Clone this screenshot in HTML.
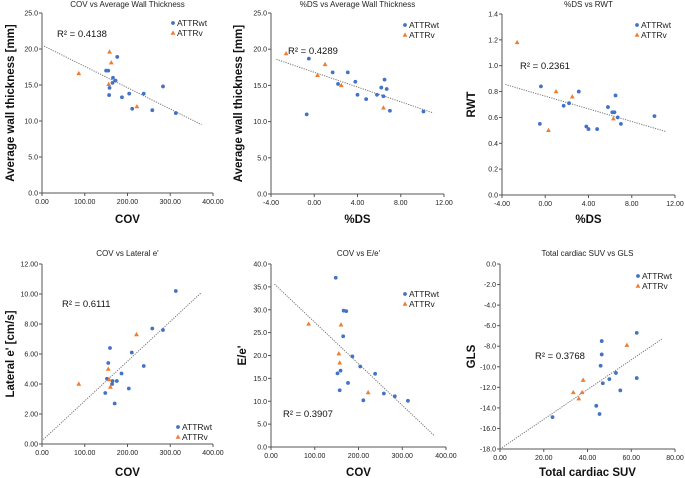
<!DOCTYPE html>
<html><head><meta charset="utf-8"><style>
html,body{margin:0;padding:0;background:#fff;}
svg{display:block;font-family:"Liberation Sans",Arial,sans-serif;}
</style></head><body>
<svg id="chart" width="685" height="478" viewBox="0 0 685 478"></svg>
<script>
// Panel 1: COV vs Average Wall Thickness
const p1WtX=[150,155,176,166,172,165,158,157,187,204,238,283,211,258,313];
const p1WtY=[17,17,18.9,16,15.6,15.3,14.6,13.6,13.3,13.8,13.8,14.8,11.7,11.5,11.1];
const p1VX=[158,162,86,156,222];
const p1VY=[19.6,18.1,16.6,15.1,12.0];
// Panel 2: %DS vs AWT
const p2WtX=[-0.5,-0.7,1.7,2.2,3.1,3.8,4.0,4.8,5.8,6.2,6.4,6.5,6.7,7.0,10.1];
const p2WtY=[18.7,11.0,16.8,15.2,16.8,15.5,13.7,13.1,13.7,14.7,13.5,15.8,14.5,11.5,11.4];
const p2VX=[-2.6,0.3,1.0,2.5,6.4];
const p2VY=[19.4,16.4,17.9,15.0,11.9];
// Panel 3: %DS vs RWT
const p3WtX=[-0.4,-0.5,1.7,2.2,3.1,3.8,4.0,4.8,5.8,6.2,6.4,6.5,6.7,7.0,10.1];
const p3WtY=[0.84,0.55,0.69,0.71,0.80,0.53,0.51,0.51,0.68,0.64,0.64,0.77,0.60,0.55,0.61];
const p3VX=[-2.6,0.3,1.0,2.5,6.3];
const p3VY=[1.18,0.50,0.80,0.76,0.59];
// Panel 4: COV vs Lateral e'
const p4WtX=[313,258,283,159,210,155,238,186,152,165,175,164,148,203,170];
const p4WtY=[10.2,7.7,7.6,6.4,6.1,5.4,5.2,4.7,4.35,4.2,4.2,4.0,3.4,3.7,2.7];
const p4VX=[86,155,157,160,221];
const p4VY=[4.0,5.0,4.3,3.8,7.3];
// Panel 5: COV vs E/e'
const p5WtX=[148,166,172,165,186,204,238,159,152,176,157,211,258,283,313];
const p5WtY=[37,29.8,29.7,24.2,19.8,17.6,16.0,16.7,16.1,14.0,12.4,10.2,11.7,11.1,10.1];
const p5VX=[86,160,155,157,222];
const p5VY=[26.9,26.7,20.4,18.4,11.9];
// Panel 6: Total cardiac SUV vs GLS
const p6WtX=[62.5,46.5,46.5,46,53,50,62.5,47,55,44,45.5,24];
const p6WtY=[-6.7,-7.5,-8.8,-9.9,-10.6,-11.2,-11.1,-11.6,-12.3,-13.8,-14.6,-14.9];
const p6VX=[58,38,33.5,37.5,36];
const p6VY=[-7.9,-11.3,-12.5,-12.5,-13.1];
// trend line endpoints [x0,y0,x1,y1]
const trend1=[5,20.4,373,9.5];
const trend2=[-3.5,18.6,11,11.2];
const trend3=[-3.7,0.855,11.2,0.49];
const trend4=[3,0.3,373,10.1];
const trend5=[8,35.6,373,2.5];
const trend6=[0,-18,74,-7.3];
const r2Labels=["R² = 0.4138","R² = 0.4289","R² = 0.2361","R² = 0.6111","R² = 0.3907","R² = 0.3768"];
const xTicks1=["0.00","100.00","200.00","300.00","400.00"];
const xTicksDS=["-4.00","0.00","4.00","8.00","12.00"];
const yTicksAWT=["0.0","5.0","10.0","15.0","20.0","25.0"];
const yTicksRWT=["0.0","0.2","0.4","0.6","0.8","1.0","1.2","1.4"];
const yTicksLat=["0.00","2.00","4.00","6.00","8.00","10.00","12.00"];
const yTicksEe=["0.0","5.0","10.0","15.0","20.0","25.0","30.0","35.0","40.0"];
const xTicksSUV=["0.00","20.00","40.00","60.00","80.00"];
const yTicksGLS=["-18.0","-16.0","-14.0","-12.0","-10.0","-8.0","-6.0","-4.0","-2.0","0.0"];

const NS="http://www.w3.org/2000/svg";
const svg=document.getElementById('chart');
function mk(tag,attrs,parent,txt){const e=document.createElementNS(NS,tag);for(const k in attrs)e.setAttribute(k,attrs[k]);if(txt!==undefined)e.textContent=txt;(parent||svg).appendChild(e);return e;}

const panels=[
 {id:'cov-awt',title:'COV vs Average Wall Thickness',xt:'COV',yt:'Average wall thickness [mm]',box:[42,213,13,193],xr:[0,400],yr:[0,25],xTicks:xTicks1,yTicks:yTicksAWT,wx:p1WtX,wy:p1WtY,vx:p1VX,vy:p1VY,tr:trend1,r2:r2Labels[0],r2p:[57,37],leg:[173,23],tY:7,xtY:227,ytX:10},
 {id:'ds-awt',title:'%DS vs Average Wall Thickness',xt:'%DS',yt:'Average wall thickness [mm]',box:[271,444,13,194],xr:[-4,12],yr:[0,25],xTicks:xTicksDS,yTicks:yTicksAWT,wx:p2WtX,wy:p2WtY,vx:p2VX,vy:p2VY,tr:trend2,r2:r2Labels[1],r2p:[288,54],leg:[405,25],tY:7,xtY:227,ytX:238},
 {id:'ds-rwt',title:'%DS vs RWT',xt:'%DS',yt:'RWT',box:[502,675,14,195],xr:[-4,12],yr:[0,1.4],xTicks:xTicksDS,yTicks:yTicksRWT,wx:p3WtX,wy:p3WtY,vx:p3VX,vy:p3VY,tr:trend3,r2:r2Labels[2],r2p:[520,69],leg:[637,25],tY:7,xtY:227,ytX:471},
 {id:'cov-lateral',title:"COV vs Lateral e'",xt:'COV',yt:"Lateral e' [cm/s]",box:[42,213,264,444],xr:[0,400],yr:[0,12],xTicks:xTicks1,yTicks:yTicksLat,wx:p4WtX,wy:p4WtY,vx:p4VX,vy:p4VY,tr:trend4,r2:r2Labels[3],r2p:[62,307],leg:[178,427],tY:256,xtY:480,ytX:10},
 {id:'cov-ee',title:"COV vs E/e'",xt:'COV',yt:"E/e'",box:[271,446,264,447],xr:[0,400],yr:[0,40],xTicks:xTicks1,yTicks:yTicksEe,wx:p5WtX,wy:p5WtY,vx:p5VX,vy:p5VY,tr:trend5,r2:r2Labels[4],r2p:[283,417],leg:[405,294],tY:256,xtY:480,ytX:242},
 {id:'suv-gls',title:'Total cardiac SUV vs GLS',xt:'Total cardiac SUV',yt:'GLS',box:[500,675,264,449],xr:[0,80],yr:[-18,0],xTicks:xTicksSUV,yTicks:yTicksGLS,wx:p6WtX,wy:p6WtY,vx:p6VX,vy:p6VY,tr:trend6,r2:r2Labels[5],r2p:[535,359],leg:[638,276],tY:256,xtY:480,ytX:471}
];
const BLUE='#4472c4',ORANGE='#ed7d31';
function tri(g,x,y){return mk('polygon',{points:`${x},${y-2.6} ${x+2.4},${y+1.7} ${x-2.4},${y+1.7}`,fill:ORANGE},g);}

panels.forEach(p=>{
 const [L,R,T,B]=p.box;
 const sx=v=>L+(v-p.xr[0])/(p.xr[1]-p.xr[0])*(R-L);
 const sy=v=>B-(v-p.yr[0])/(p.yr[1]-p.yr[0])*(B-T);
 const g=mk('g',{});
 
 
 const t=mk('text',{x:(L+R)/2,y:p.tY,'text-anchor':'middle','font-size':8,fill:'#222'},g,p.title);
 
 
 const ax=mk('g',{stroke:'#555','stroke-width':1},g);
 
 
 mk('line',{x1:L,y1:T,x2:L,y2:B},ax);
 mk('line',{x1:L,y1:B,x2:R,y2:B},ax);
 const nx=p.xTicks.length,ny=p.yTicks.length;
 p.xTicks.forEach((lab,i)=>{
  const x=L+i*(R-L)/(nx-1);
  mk('line',{x1:x,y1:B,x2:x,y2:B+3},ax);
  const tl=mk('text',{x:x,y:B+11,'text-anchor':'middle','font-size':7,fill:'#222'},g,lab);
  
  
 });
 p.yTicks.forEach((lab,i)=>{
  const y=B-i*(B-T)/(ny-1);
  mk('line',{x1:L-3,y1:y,x2:L,y2:y},ax);
  const tl=mk('text',{x:L-4,y:y+2.5,'text-anchor':'end','font-size':7,fill:'#222'},g,lab);
  
  
 });
 const xt=mk('text',{x:(L+R)/2,y:p.xtY-4,'text-anchor':'middle','font-size':11.5,'font-weight':'bold',fill:'#111'},g,p.xt);
 
 
 const cy=(T+B)/2;
 const yt=mk('text',{x:p.ytX,y:cy,'text-anchor':'middle','font-size':11.5,'font-weight':'bold',fill:'#111',transform:`rotate(-90 ${p.ytX} ${cy}) translate(0 4)`},g,p.yt);
 
 
 const tl=mk('line',{x1:sx(p.tr[0]),y1:sy(p.tr[1]),x2:sx(p.tr[2]),y2:sy(p.tr[3]),stroke:'#777','stroke-width':1,'stroke-dasharray':'1.2,1.2'},g);
 
 
 const r2=mk('text',{x:p.r2p[0],y:p.r2p[1],'font-size':9.5,fill:'#111'},g,p.r2);
 
 
 p.wx.forEach((v,i)=>{
  const c=mk('circle',{cx:sx(v),cy:sy(p.wy[i]),r:1.9,fill:BLUE},g);
  
  
 });
 p.vx.forEach((v,i)=>{
  const c=tri(g,sx(v),sy(p.vy[i]));
  
  
 });
 const lg=mk('g',{},g);
 
 
 const [lx,ly]=p.leg;
 mk('circle',{cx:lx,cy:ly,r:1.9,fill:BLUE},lg);
 const e1=mk('text',{x:lx+4,y:ly+3,'font-size':8.5,fill:'#222'},lg,'ATTRwt');
 
 
 tri(lg,lx,ly+10);
 const e2=mk('text',{x:lx+4,y:ly+13,'font-size':8.5,fill:'#222'},lg,'ATTRv');
 
 
});
</script>
</body></html>
